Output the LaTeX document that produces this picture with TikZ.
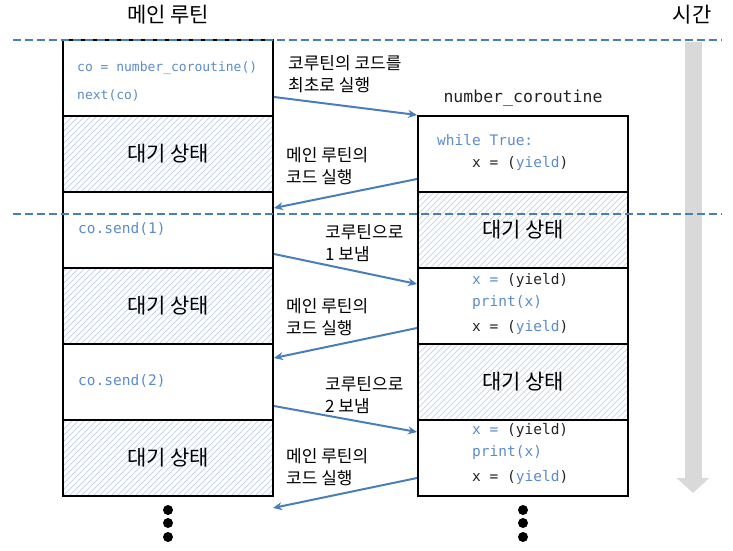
\documentclass[tikz,border=0pt]{standalone}
\usepackage{fontspec}
\setmainfont{Noto Sans CJK KR}
\setmonofont{DejaVu Sans Mono}
\usetikzlibrary{arrows.meta,backgrounds}

\definecolor{flowblue}{HTML}{4A7EBB}
\definecolor{codeblue}{HTML}{5B8BC9}
\definecolor{hatch}{HTML}{C9D7EA}
\definecolor{timegray}{HTML}{D9D9D9}
\definecolor{ink}{HTML}{222222}

\tikzset{
  stagebox/.style={draw, line width=2pt, minimum width=210pt, minimum height=76pt, inner sep=0pt},
  waitbox/.style={stagebox, font=\fontsize{21}{24}\selectfont},
  hatchline/.style={draw=hatch, line width=0.9pt},
  code/.style={font=\ttfamily\fontsize{13}{15}\selectfont, text=codeblue, anchor=west, inner sep=0pt},
  bigcode/.style={code, font=\ttfamily\fontsize{14.5}{16}\selectfont},
  note/.style={font=\fontsize{17}{22}\selectfont, align=left, anchor=west, inner sep=0pt},
  heading/.style={font=\fontsize{21}{24}\selectfont, inner sep=0pt},
  flow/.style={draw=flowblue, line width=2pt, -{Stealth[length=9pt,width=8pt]}},
  timeline/.style={draw=flowblue, line width=2pt, dash pattern=on 8pt off 4pt},
}

\begin{document}
\begin{tikzpicture}[x=1pt,y=-1pt]
  \useasboundingbox (0,0) rectangle (733,551);

  % time
  \coordinate (ttop) at (693,42);
  \coordinate (tbot) at (693,493);
  \draw[line width=17pt, draw=timegray, -{Triangle[length=15pt,width=32pt]}] (ttop) -- (tbot);
  \node[heading] (timelabel) at (692,15) {시간};

  % main routine
  \node[heading] (maintitle) at (168,15) {메인 루틴};
  \node[stagebox] (main1) at (168,78) {};
  \node[waitbox] (main2) at (168,154) {대기 상태};
  \node[stagebox] (main3) at (168,230) {};
  \node[waitbox] (main4) at (168,306) {대기 상태};
  \node[stagebox] (main5) at (168,382) {};
  \node[waitbox] (main6) at (168,458) {대기 상태};

  % coroutine
  \node[font=\ttfamily\fontsize{16.5}{18}\selectfont, text=ink, inner sep=0pt] (cotitle) at (523,98) {number\_coroutine};
  \node[stagebox] (co1) at (523,154) {};
  \node[waitbox] (co2) at (523,230) {대기 상태};
  \node[stagebox] (co3) at (523,306) {};
  \node[waitbox] (co4) at (523,382) {대기 상태};
  \node[stagebox] (co5) at (523,458) {};

  % waiting = hatched
  \begin{scope}[on background layer]
    \foreach \b in {main2,main4,main6,co2,co4} {
      \begin{scope}
        \clip (\b.south west) rectangle (\b.north east);
        \foreach \k in {-84,-78,...,216}
          \draw[hatchline] ([xshift=\k pt]\b.south west) -- ++(80,-80);
      \end{scope}
    }
  \end{scope}

  % time steps
  \draw[timeline] (13,40) -- (722,40);
  \draw[timeline] (13,214) -- (722,214);

  % code
  \node[code] (m1a) at (77,68) {co = number\_coroutine()};
  \node[code] (m1b) at (77,95) {next(co)};
  \node[bigcode] (m3a) at (78,229) {co.send(1)};
  \node[bigcode] (m5a) at (78,381) {co.send(2)};

  \node[bigcode] (c1a) at (437,140) {while True:};
  \node[bigcode] (c1b) at (472,163) {\textcolor{ink}{x = (}yield\textcolor{ink}{)}};
  \node[bigcode] (c3a) at (472,280) {x = \textcolor{ink}{(yield)}};
  \node[bigcode] (c3b) at (472,302) {print(x)};
  \node[bigcode] (c3c) at (472,327) {\textcolor{ink}{x = (}yield\textcolor{ink}{)}};
  \node[bigcode] (c5a) at (472,430) {x = \textcolor{ink}{(yield)}};
  \node[bigcode] (c5b) at (472,452) {print(x)};
  \node[bigcode] (c5c) at (472,477) {\textcolor{ink}{x = (}yield\textcolor{ink}{)}};

  % hand-offs
  \coordinate (next) at (273,508);
  \draw[flow] ([yshift=-19pt]main1.east) -- (co1.north west);
  \draw[flow] ([yshift=-25pt]co1.west) -- ([yshift=22pt]main3.east);
  \draw[flow] ([yshift=-24pt]main3.east) -- ([yshift=22pt]co3.west);
  \draw[flow] ([yshift=-22pt]co3.west) -- ([yshift=24pt]main5.east);
  \draw[flow] ([yshift=-24pt]main5.east) -- ([yshift=26pt]co5.west);
  \draw[flow] ([yshift=-20pt]co5.west) -- (next);

  \node[note] (n1) at (288,74) {코루틴의 코드를\\최초로 실행};
  \node[note] (n2) at (286,166) {메인 루틴의\\코드 실행};
  \node[note] (n3) at (325,243) {코루틴으로\\1 보냄};
  \node[note] (n4) at (286,317) {메인 루틴의\\코드 실행};
  \node[note] (n5) at (325,395) {코루틴으로\\2 보냄};
  \node[note] (n6) at (286,467) {메인 루틴의\\코드 실행};

  % more to come
  \foreach \y in {510,523,537} {
    \fill (168,\y) circle (5pt);
    \fill (523,\y) circle (5pt);
  }
\end{tikzpicture}
\end{document}
